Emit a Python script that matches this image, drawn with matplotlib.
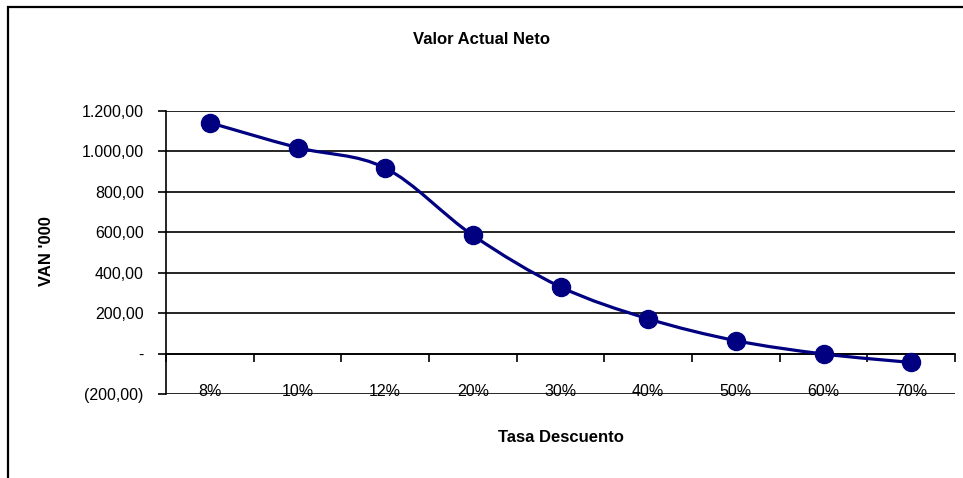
import matplotlib
matplotlib.use('Agg')
import matplotlib.pyplot as plt
from matplotlib.path import Path
from matplotlib.patches import PathPatch, Rectangle
from matplotlib.ticker import FuncFormatter
import numpy as np

plt.rcParams['font.family'] = ['Liberation Sans', 'DejaVu Sans']

tasas = ['8%', '10%', '12%', '20%', '30%', '40%', '50%', '60%', '70%']
van = [1142, 1019, 918, 585, 330, 172, 64, -2, -44]

navy = '#000080'

def fmt(v, pos):
    if abs(v) < 1e-9:
        return '-'
    s = '{:,.2f}'.format(abs(v)).replace(',', 'X').replace('.', ',').replace('X', '.')
    return '(' + s + ')' if v < 0 else s

fig = plt.figure(figsize=(9.63, 4.78), dpi=100)
ax = fig.add_axes([166/963, 84/478, 789/963, 283/478])

x = np.arange(len(tasas))
y = np.array(van, dtype=float)

# smooth line (Excel-style Bezier through the points)
pts = np.column_stack([x, y])
verts = [pts[0]]
codes = [Path.MOVETO]
for i in range(len(pts) - 1):
    p0 = pts[i - 1] if i > 0 else pts[i]
    p1 = pts[i]
    p2 = pts[i + 1]
    p3 = pts[i + 2] if i + 2 < len(pts) else pts[i + 1]
    c1 = p1 + (p2 - p0) / 6
    c2 = p2 - (p3 - p1) / 6
    verts += [c1, c2, p2]
    codes += [Path.CURVE4] * 3
ax.add_patch(PathPatch(Path(verts, codes), facecolor='none', edgecolor=navy, lw=2.3, zorder=3))
ax.plot(x, y, linestyle='none', marker='o', markersize=13, color=navy, zorder=4)

ax.set_xlim(-0.5, len(tasas) - 0.5)
ax.set_ylim(-200, 1200)
ax.set_yticks(np.arange(-200, 1201, 200))
ax.yaxis.set_major_formatter(FuncFormatter(fmt))
ax.grid(axis='y', color='black', lw=1.2)
ax.set_axisbelow(True)

for s in ['top', 'right']:
    ax.spines[s].set_visible(False)
ax.spines['bottom'].set_position(('data', 0))
ax.spines['bottom'].set_linewidth(1.2)
ax.spines['left'].set_linewidth(1.2)

ax.set_xticks(x)
ax.set_xticklabels(tasas)
ax.set_xticks(np.arange(-0.5, len(tasas), 1), minor=True)
ax.tick_params(axis='x', which='major', length=0, pad=22, labelsize=11.5)
ax.tick_params(axis='x', which='minor', length=6, width=1.2, direction='out')
ax.tick_params(axis='y', length=6, width=1.2, labelsize=11.5, pad=10)

fig.text(0.5, 1 - 39/478, 'Valor Actual Neto', ha='center', va='center', fontsize=12, fontweight='bold')
fig.text((166 + 955) / 2 / 963, 1 - 438/478, 'Tasa Descuento', ha='center', va='center', fontsize=12, fontweight='bold')
fig.text(46/963, 1 - 251/478, "VAN '000", ha='center', va='center', rotation=90, fontsize=12, fontweight='bold')

fig.patches.append(Rectangle((8/963, -0.1), 1.2, 1.1 - 7.5/478, transform=fig.transFigure,
                             fill=False, edgecolor='black', lw=1.6))

fig.savefig('out.png', dpi=100)
